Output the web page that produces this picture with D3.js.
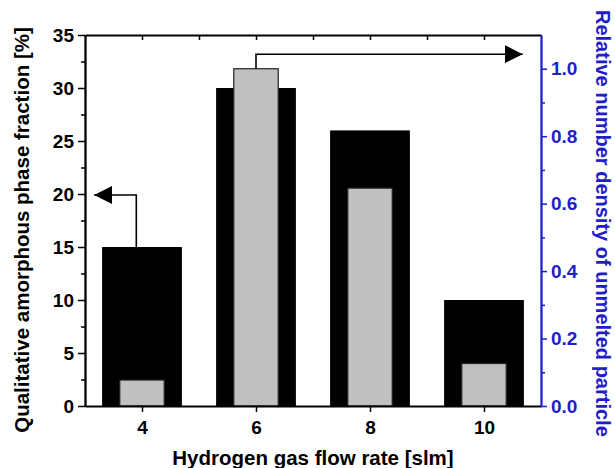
<!DOCTYPE html>
<html>
<head>
<meta charset="utf-8"/>
<title>Amorphous fraction vs H2 flow</title>
<script src="https://cdnjs.cloudflare.com/ajax/libs/d3/7.8.5/d3.min.js"></script>
<style>
    body { margin: 0; background: #fff; }
    svg { display: block; }
    text { font-family: 'Liberation Sans', Arial, sans-serif; font-weight: bold; }
</style>
</head>
<body>
<svg id="chart" width="615" height="468"></svg>
<script>
// data
const flowRates = [4, 6, 8, 10];
const amorphousFraction = [15, 30, 26, 10];          // left axis, %
const unmeltedDensity = [0.077, 1.0, 0.646, 0.126];  // right axis, relative
const leftTicks = [0, 5, 10, 15, 20, 25, 30, 35];
const rightTicks = [0.0, 0.2, 0.4, 0.6, 0.8, 1.0];
const xTicks = [4, 6, 8, 10];

const svg = d3.select("#chart");
const margin = { top: 35, right: 74, bottom: 62, left: 85 };
const W = 615, H = 468;
const blue = "#1e1ecb";

const x = d3.scaleLinear().domain([3, 11]).range([margin.left, W - margin.right]);
const yL = d3.scaleLinear().domain([0, 35]).range([H - margin.bottom, margin.top]);
const yR = d3.scaleLinear().domain([0, 1.1]).range([H - margin.bottom, margin.top]);

const blackW = 1.4, grayW = 0.78;

// black bars (left axis)
svg.append("g").selectAll("rect")
    .data(flowRates)
    .join("rect")
    .attr("x", (d) => x(d - blackW / 2))
    .attr("width", x(blackW) - x(0))
    .attr("y", (d, i) => yL(amorphousFraction[i]))
    .attr("height", (d, i) => yL(0) - yL(amorphousFraction[i]))
    .attr("fill", "#000");

// gray bars (right axis)
svg.append("g").selectAll("rect")
    .data(flowRates)
    .join("rect")
    .attr("x", (d) => x(d - grayW / 2))
    .attr("width", x(grayW) - x(0))
    .attr("y", (d, i) => yR(unmeltedDensity[i]))
    .attr("height", (d, i) => yR(0) - yR(unmeltedDensity[i]))
    .attr("fill", "#c0c0c0")
    .attr("stroke", "#222")
    .attr("stroke-width", 1.2);

// axes
const axisStyle = (g, color) => {
    g.select(".domain").attr("stroke", color).attr("stroke-width", 1.8);
    g.selectAll(".tick line").attr("stroke", color).attr("stroke-width", 1.5);
    g.selectAll(".tick text").attr("fill", color).style("font-size", "19px");
};

svg.append("g")
    .attr("transform", `translate(0,${H - margin.bottom})`)
    .call(d3.axisBottom(x).tickValues(xTicks).tickSize(6).tickSizeOuter(0).tickPadding(9))
    .call(g => axisStyle(g, "#000"));

svg.append("g")
    .attr("transform", `translate(0,${margin.top})`)
    .call(d3.axisTop(x).tickValues(d3.range(4, 11)).tickSize(-5).tickSizeOuter(0).tickFormat(""))
    .call(g => axisStyle(g, "#000"));

// left minor ticks
svg.append("g")
    .attr("transform", `translate(${margin.left},0)`)
    .call(d3.axisLeft(yL).tickValues(d3.range(2.5, 35, 5)).tickSize(4).tickSizeOuter(0).tickFormat(""))
    .call(g => axisStyle(g, "#000"));
svg.append("g")
    .attr("transform", `translate(${margin.left},0)`)
    .call(d3.axisLeft(yL).tickValues(leftTicks).tickSize(7).tickSizeOuter(0).tickPadding(4))
    .call(g => axisStyle(g, "#000"));

// right axis
svg.append("g")
    .attr("transform", `translate(${W - margin.right},0)`)
    .call(d3.axisRight(yR).tickValues(d3.range(0.1, 1.1, 0.2)).tickSize(4).tickSizeOuter(0).tickFormat(""))
    .call(g => axisStyle(g, blue));
svg.append("g")
    .attr("transform", `translate(${W - margin.right},0)`)
    .call(d3.axisRight(yR).tickValues(rightTicks).tickSize(6).tickSizeOuter(0).tickPadding(4).tickFormat(d3.format(".1f")))
    .call(g => axisStyle(g, blue));

// arrows marking which axis each series belongs to
const defs = svg.append("defs");
defs.append("marker")
    .attr("id", "head")
    .attr("viewBox", "0 0 10 10")
    .attr("refX", 10).attr("refY", 5)
    .attr("markerWidth", 18).attr("markerHeight", 18)
    .attr("markerUnits", "userSpaceOnUse")
    .attr("orient", "auto")
    .append("path").attr("d", "M0,0L10,5L0,10Z").attr("fill", "#000");

const leftArrow = [[3.9, yL(15)], [3.9, yL(19.9)], [3.16, yL(19.9)]];
const rightArrow = [[6, yR(1.0)], [6, yR(1.043)], [10.68, yR(1.043)]];
const line = d3.line().x(d => x(d[0])).y(d => d[1]);
[leftArrow, rightArrow].forEach(pts => {
    svg.append("path")
        .attr("d", line(pts))
        .attr("fill", "none")
        .attr("stroke", "#000")
        .attr("stroke-width", 1.6)
        .attr("marker-end", "url(#head)");
});

// axis titles
svg.append("text")
    .attr("transform", `translate(22,230) rotate(-90)`)
    .attr("text-anchor", "middle")
    .attr("dy", "0.35em")
    .style("font-size", "20.5px")
    .text("Qualitative amorphous phase fraction [%]");

svg.append("text")
    .attr("transform", `translate(603,10) rotate(90)`)
    .attr("text-anchor", "start")
    .attr("dy", "0.35em")
    .attr("fill", blue)
    .style("font-size", "20px")
    .text("Relative number density of unmelted particle");

svg.append("text")
    .attr("x", (margin.left + W - margin.right) / 2)
    .attr("y", 465)
    .attr("text-anchor", "middle")
    .style("font-size", "20.5px")
    .text("Hydrogen gas flow rate [slm]");
</script>
</body>
</html>
